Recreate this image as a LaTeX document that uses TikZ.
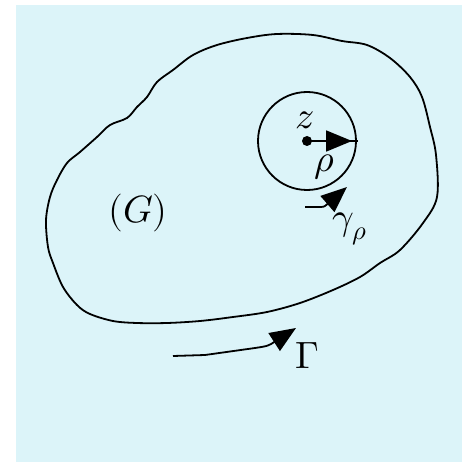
\documentclass[tikz,border=0pt]{standalone}
\usepackage{unicode-math}
\usetikzlibrary{arrows.meta}
\definecolor{bg}{RGB}{220,244,249}
\tikzset{
  curve/.style={line width=1.8pt, black},
  head/.style={-{Triangle[length=26pt,width=21pt]}},
  lbl/.style={inner sep=0pt, font=\fontsize{38}{44}\selectfont}
}
\begin{document}
\begin{tikzpicture}[x=1pt,y=-1pt]
\useasboundingbox (0,0) rectangle (470,462);
\fill[white] (0,0) rectangle (470,462);
\fill[bg] (16,5) rectangle (462,462);
% region boundary Gamma
\draw[curve] plot[smooth cycle, tension=0.55] coordinates {
(277,34) (313,35) (342,41) (367,45) (390,58) (410,77) (422,97) (430,127) (436,155) (437,197) (423,223) (400,250) (380,263) (360,277) (333,290) (300,303) (267,312) (233,317) (200,321) (167,323) (137,323) (113,321) (90,314) (77,305) (63,287) (53,263) (48,247) (46,220) (50,197) (57,180) (67,163) (80,152) (97,137) (110,125) (127,118) (137,107) (147,97) (157,82) (173,70) (193,55) (217,45) (247,38)};
% small circle
\coordinate (z) at (307,141);
\draw[curve] (z) circle[radius=49pt];
\fill (z) circle[radius=5pt];
\coordinate (rim) at (358,141);
\coordinate (tipz) at (352,141);
\draw[curve] (z) -- (rim);
\draw[curve, head] (z) -- (tipz);
% gamma_rho orientation arrow
\coordinate (g0) at (305,207);
\coordinate (g1) at (347,187);
\draw[curve, head] (g0) -- (318,207) .. controls (324,207) .. (g1);
% Gamma orientation arrow
\coordinate (G0) at (173,356);
\coordinate (G1) at (296,328);
\draw[curve, head] (G0) -- (205,355) -- (255,348) .. controls (268,346) .. (G1);
% labels
\node[lbl] (lz) at (305,120) {$z$};
\node[lbl] (lrho) at (325,167) {$\rho$};
\node[lbl] (lgam) at (350,229) {$\gamma_\rho$};
\node[lbl] (lG) at (138,213) {$(G)$};
\node[lbl] (lGam) at (307,356) {$\Gamma$};
\end{tikzpicture}
\end{document}
